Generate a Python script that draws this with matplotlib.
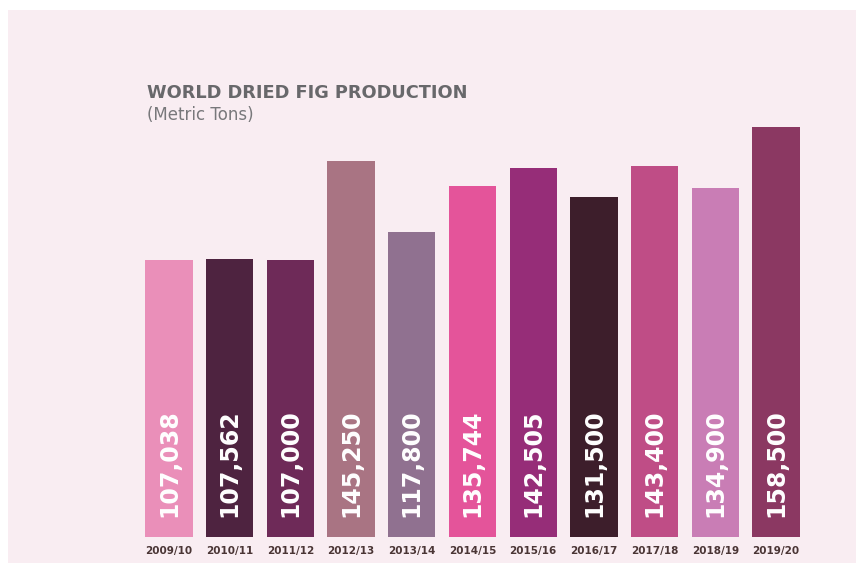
import matplotlib
matplotlib.use("Agg")
import matplotlib.pyplot as plt
from matplotlib.patches import Rectangle

seasons = ["2009/10", "2010/11", "2011/12", "2012/13", "2013/14", "2014/15",
           "2015/16", "2016/17", "2017/18", "2018/19", "2019/20"]
production = [107038, 107562, 107000, 145250, 117800, 135744,
              142505, 131500, 143400, 134900, 158500]
bar_colors = ["#ea8fb9", "#4e2340", "#6e2a58", "#a97483", "#907190", "#e4549a",
              "#962d78", "#3d1e2b", "#bf4d86", "#c97db5", "#8b3862"]

W, H = 856, 563
bg = "#f9edf2"
fig = plt.figure(figsize=(W / 100, H / 100), dpi=100)
fig.patch.set_facecolor("white")
fig.patches.append(Rectangle((8 / W, 0), 1, 1 - 10 / H, transform=fig.transFigure,
                             facecolor=bg, edgecolor="none", zorder=-10))

# axes placement in pixels
left_px, right_px = 129.5, 815.5
bottom_px = 536.7
top_px = 100
ax = fig.add_axes([left_px / W, 1 - bottom_px / H, (right_px - left_px) / W,
                   (bottom_px - top_px) / H])
ax.set_facecolor("none")

x = list(range(len(seasons)))
ax.bar(x, production, width=0.78, color=bar_colors, edgecolor="none")
ax.set_xlim(-0.65, len(seasons) - 1 + 0.65)
ax.set_ylim(0, 169000)

for xi, v in zip(x, production):
    ax.annotate(f"{v:,}", xy=(xi, 0), xytext=(0, 14), textcoords="offset points",
                rotation=90, ha="center", va="bottom", color="white",
                fontsize=17, fontweight="bold", family="DejaVu Sans")

ax.set_xticks(x)
ax.set_xticklabels(seasons, fontsize=7.5, fontweight="bold", color="#4a3535",
                   family="DejaVu Sans")
ax.tick_params(axis="x", length=0, pad=7)
ax.set_yticks([])
for s in ax.spines.values():
    s.set_visible(False)

fig.text(147 / W, 1 - 93 / H, "WORLD DRIED FIG PRODUCTION", fontsize=12.8,
         fontweight="bold", color="#68686b", family="DejaVu Sans", va="center", ha="left")
fig.text(147 / W, 1 - 115 / H, "(Metric Tons)", fontsize=12, color="#78787b",
         family="DejaVu Sans", va="center", ha="left")

fig.savefig("out.png", dpi=100, facecolor=fig.get_facecolor())
